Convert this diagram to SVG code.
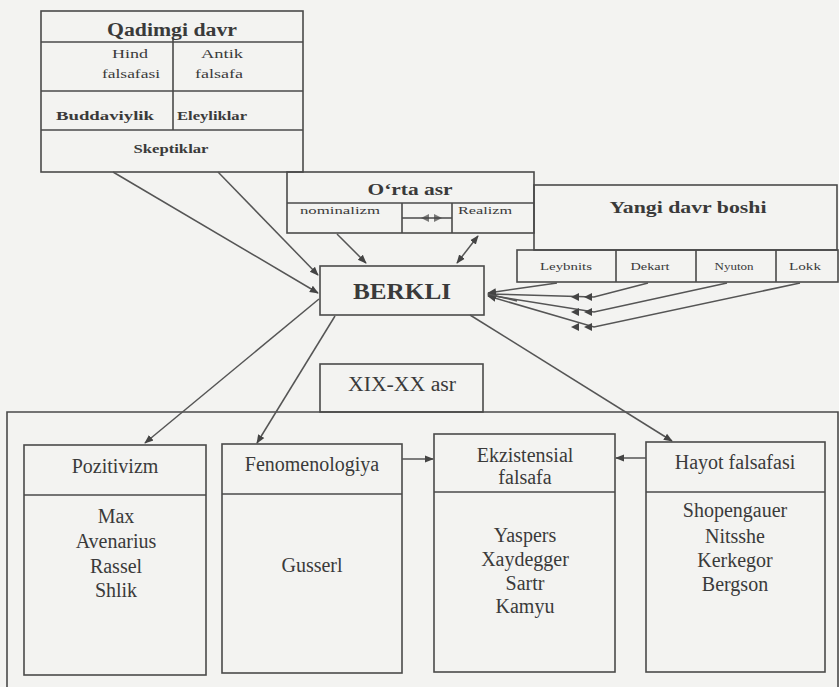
<svg xmlns="http://www.w3.org/2000/svg" width="839" height="687" viewBox="0 0 839 687" font-family="'Liberation Serif', 'Times New Roman', 'DejaVu Serif', serif">
<defs>
<marker id="ah" viewBox="0 0 10 10" refX="9" refY="5" markerWidth="9" markerHeight="9" markerUnits="userSpaceOnUse" orient="auto">
<path d="M0,1 L10,5 L0,9 Z" fill="#444"/>
</marker>
<marker id="ahs" viewBox="0 0 10 10" refX="1" refY="5" markerWidth="9" markerHeight="9" markerUnits="userSpaceOnUse" orient="auto">
<path d="M10,1 L0,5 L10,9 Z" fill="#444"/>
</marker>
<style>
.b{fill:none;stroke:#4a4a4a;stroke-width:1.6}
.c{fill:none;stroke:#555;stroke-width:1.5}
.t{font-family:'Liberation Serif','Times New Roman','DejaVu Serif',serif;fill:#3a3a3a;text-anchor:middle}
.bd{font-weight:bold}
.h{fill:#444}
</style>
</defs>
<rect x="0" y="0" width="839" height="687" fill="#f3f3f1"/>

<g id="qadimgi">
<rect class="b" x="41" y="11" width="262" height="161"/>
<line class="b" x1="41" y1="42" x2="303" y2="42"/>
<line class="b" x1="173" y1="38" x2="173" y2="130"/>
<line class="b" x1="41" y1="91" x2="303" y2="91"/>
<line class="b" x1="41" y1="130" x2="303" y2="130"/>
<text class="t bd" x="172" y="36" font-size="18" textLength="130" lengthAdjust="spacingAndGlyphs">Qadimgi davr</text>
<text class="t" x="130" y="58" font-size="13" textLength="36" lengthAdjust="spacingAndGlyphs">Hind</text>
<text class="t" x="131" y="78" font-size="13" textLength="58" lengthAdjust="spacingAndGlyphs">falsafasi</text>
<text class="t" x="222" y="58" font-size="13" textLength="42" lengthAdjust="spacingAndGlyphs">Antik</text>
<text class="t" x="219" y="78" font-size="13" textLength="48" lengthAdjust="spacingAndGlyphs">falsafa</text>
<text class="t bd" x="105" y="120" font-size="13" textLength="98" lengthAdjust="spacingAndGlyphs">Buddaviylik</text>
<text class="t bd" x="212" y="120" font-size="13" textLength="70" lengthAdjust="spacingAndGlyphs">Eleyliklar</text>
<text class="t bd" x="171" y="153" font-size="13" textLength="75" lengthAdjust="spacingAndGlyphs">Skeptiklar</text>
</g>

<g id="orta-asr">
<rect class="b" x="287" y="172" width="247" height="61"/>
<line class="b" x1="287" y1="203" x2="534" y2="203"/>
<line class="b" x1="402" y1="203" x2="402" y2="233"/>
<line class="b" x1="452" y1="203" x2="452" y2="233"/>
<line class="b" x1="402" y1="218" x2="452" y2="218"/>
<path class="h" d="M421,218 L429,214 L429,222 Z M442,218 L434,214 L434,222 Z" opacity="0.7"/>
<text class="t bd" x="410" y="195" font-size="17" textLength="85" lengthAdjust="spacingAndGlyphs">O‘rta asr</text>
<text class="t" x="340" y="214" font-size="11" textLength="80" lengthAdjust="spacingAndGlyphs">nominalizm</text>
<text class="t" x="485" y="214" font-size="11" textLength="54" lengthAdjust="spacingAndGlyphs">Realizm</text>
</g>

<g id="yangi-davr">
<rect class="b" x="534" y="185" width="303" height="65"/>
<rect class="b" x="517" y="250" width="321" height="32"/>
<line class="b" x1="616" y1="250" x2="616" y2="282"/>
<line class="b" x1="696" y1="250" x2="696" y2="282"/>
<line class="b" x1="776" y1="250" x2="776" y2="282"/>
<text class="t bd" x="688" y="213" font-size="17" textLength="157" lengthAdjust="spacingAndGlyphs">Yangi davr boshi</text>
<text class="t" x="566" y="270" font-size="10" textLength="52" lengthAdjust="spacingAndGlyphs">Leybnits</text>
<text class="t" x="650" y="270" font-size="10" textLength="39" lengthAdjust="spacingAndGlyphs">Dekart</text>
<text class="t" x="734" y="270" font-size="10" textLength="39" lengthAdjust="spacingAndGlyphs">Nyuton</text>
<text class="t" x="805" y="270" font-size="10" textLength="32" lengthAdjust="spacingAndGlyphs">Lokk</text>
</g>

<g id="berkli">
<rect class="b" x="320" y="266" width="164" height="49"/>
<text class="t bd" x="402" y="299" font-size="24" textLength="98" lengthAdjust="spacingAndGlyphs">BERKLI</text>
</g>

<g id="xix-xx">
<rect class="b" x="320" y="364" width="163" height="48"/>
<text class="t" x="402" y="391" font-size="20" textLength="108" lengthAdjust="spacingAndGlyphs">XIX-XX asr</text>
</g>

<g id="xix-xx-frame">
<path class="b" d="M7,690 L7,412 L838,412 L838,690"/>
</g>

<g id="pozitivizm">
<rect class="b" x="24" y="445" width="182" height="230"/>
<line class="b" x1="24" y1="495" x2="206" y2="495"/>
<text class="t" x="115" y="473" font-size="20">Pozitivizm</text>
<text class="t" x="116" y="523" font-size="20">Max</text>
<text class="t" x="116" y="548" font-size="20">Avenarius</text>
<text class="t" x="116" y="573" font-size="20">Rassel</text>
<text class="t" x="116" y="597" font-size="20">Shlik</text>
</g>

<g id="fenomenologiya">
<rect class="b" x="222" y="444" width="180" height="229"/>
<line class="b" x1="222" y1="494" x2="402" y2="494"/>
<text class="t" x="312" y="471" font-size="20">Fenomenologiya</text>
<text class="t" x="312" y="572" font-size="20">Gusserl</text>
</g>

<g id="ekzistensial">
<rect class="b" x="434" y="434" width="181" height="238"/>
<line class="b" x1="434" y1="492" x2="615" y2="492"/>
<text class="t" x="525" y="462" font-size="20">Ekzistensial</text>
<text class="t" x="525" y="484" font-size="20">falsafa</text>
<text class="t" x="525" y="542" font-size="20">Yaspers</text>
<text class="t" x="525" y="566" font-size="20">Xaydegger</text>
<text class="t" x="525" y="590" font-size="20">Sartr</text>
<text class="t" x="525" y="613" font-size="20">Kamyu</text>
</g>

<g id="hayot">
<rect class="b" x="646" y="442" width="179" height="230"/>
<line class="b" x1="646" y1="492" x2="825" y2="492"/>
<text class="t" x="735" y="469" font-size="20">Hayot falsafasi</text>
<text class="t" x="735" y="517" font-size="20">Shopengauer</text>
<text class="t" x="735" y="543" font-size="20">Nitsshe</text>
<text class="t" x="735" y="567" font-size="20">Kerkegor</text>
<text class="t" x="735" y="591" font-size="20">Bergson</text>
</g>

<g id="connectors">
<line class="c" x1="113" y1="172" x2="318" y2="293" marker-end="url(#ah)"/>
<line class="c" x1="218" y1="172" x2="318" y2="275" marker-end="url(#ah)"/>
<line class="c" x1="337" y1="234" x2="366" y2="263" marker-end="url(#ah)"/>
<line class="c" x1="478" y1="236" x2="457" y2="263" marker-start="url(#ahs)" marker-end="url(#ah)"/>
<line class="c" x1="557" y1="283" x2="488" y2="293" marker-end="url(#ah)"/>
<polyline class="c" points="648,283 594,297 488,294" marker-end="url(#ah)"/>
<polyline class="c" points="727,283 594,312 488,295" marker-end="url(#ah)"/>
<polyline class="c" points="800,283 594,327 488,296" marker-end="url(#ah)"/>
<line class="c" x1="488" y1="294" x2="517" y2="301" stroke-width="4"/>
<path class="h" d="M571,297 L579,293 L579,301 Z M584,297 L592,293 L592,301 Z M571,312 L579,308 L579,316 Z M584,312 L592,308 L592,316 Z M571,327 L579,323 L579,331 Z M584,327 L592,323 L592,331 Z"/>
<line class="c" x1="319" y1="299" x2="145" y2="443" marker-end="url(#ah)"/>
<line class="c" x1="335" y1="316" x2="257" y2="443" marker-end="url(#ah)"/>
<line class="c" x1="470" y1="315" x2="672" y2="441" marker-end="url(#ah)"/>
<line class="c" x1="402" y1="459" x2="433" y2="459" marker-end="url(#ah)"/>
<line class="c" x1="646" y1="458" x2="616" y2="458" marker-end="url(#ah)"/>
</g>
</svg>
